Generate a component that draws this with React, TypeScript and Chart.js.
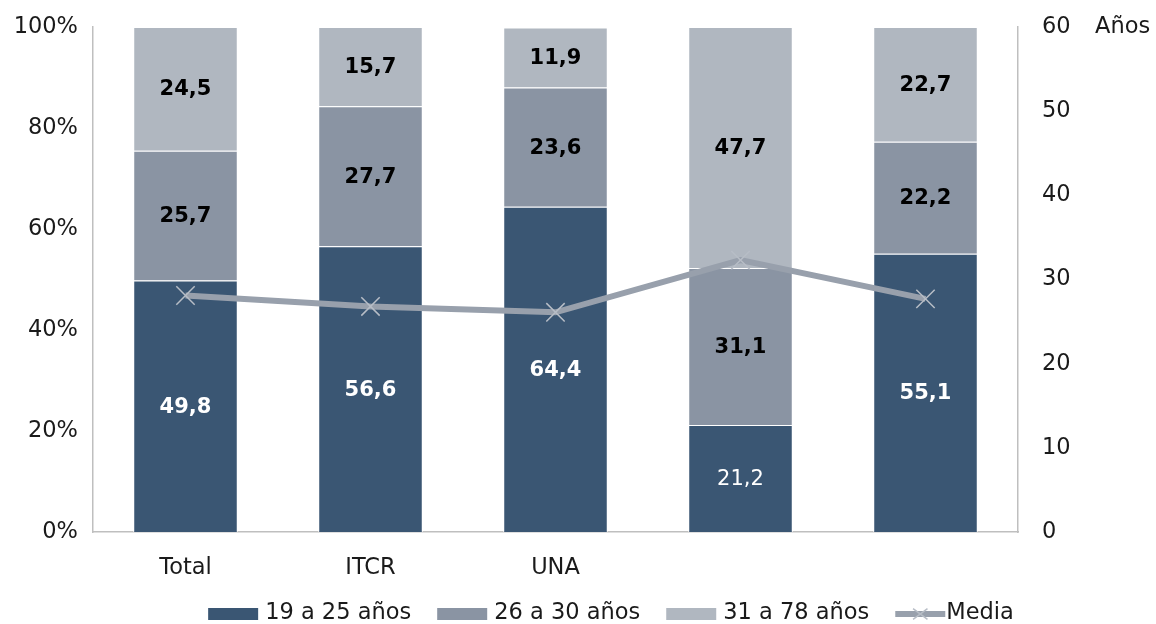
import React, { useEffect, useRef } from "react";
import { Chart, registerables } from "chart.js";

Chart.register(...registerables);

const categories = ["Total", "ITCR", "UNA", "", ""];
const seriesLabels = ["19 a 25 años", "26 a 30 años", "31 a 78 años"];
const age19to25 = [49.8, 56.6, 64.4, 21.2, 55.1];
const age26to30 = [25.7, 27.7, 23.6, 31.1, 22.2];
const age31to78 = [24.5, 15.7, 11.9, 47.7, 22.7];
const mediaLabel = "Media";
const mediaYears = [28.1, 26.8, 26.1, 32.3, 27.7];
const leftTicks = [0, 20, 40, 60, 80, 100];
const rightTicks = [0, 10, 20, 30, 40, 50, 60];
const rightAxisTitle = "Años";

const FONT = "'DejaVu Sans', sans-serif";
const TEXT = "#1a1a1a";
const COLORS = ["#3a5673", "#8a94a3", "#b0b7c0"];
const LINE = "#98a0ac";
const MARK = "#b7bdc6";
const AXIS = "#bfbfbf";
const TICK_SIZE = 22.5;

const fmt = (v: number) => v.toFixed(1).replace(".", ",");

const valueLabels = {
  id: "valueLabels",
  afterDatasetsDraw(chart: any) {
    const ctx = chart.ctx;
    ctx.save();
    ctx.textAlign = "center";
    ctx.textBaseline = "middle";
    for (let d = 0; d < 3; d++) {
      const meta = chart.getDatasetMeta(d);
      const ds = chart.data.datasets[d];
      meta.data.forEach((el: any, i: number) => {
        const plain = d === 0 && i === 3;
        ctx.font = `${plain ? "normal" : "bold"} 21px ${FONT}`;
        ctx.fillStyle = d === 0 ? "#ffffff" : "#000000";
        ctx.fillText(fmt(ds.data[i]), el.x, (el.y + el.base) / 2 + 1);
      });
    }
    ctx.restore();
  },
};

const extras = {
  id: "extras",
  afterDraw(chart: any) {
    const ctx = chart.ctx;
    const y1 = chart.scales.y1;
    ctx.save();
    ctx.font = `${TICK_SIZE}px ${FONT}`;
    ctx.fillStyle = TEXT;
    ctx.textBaseline = "middle";
    ctx.textAlign = "left";
    ctx.fillText(rightAxisTitle, chart.chartArea.right + 77, y1.getPixelForValue(60));

    // legend
    const ds = chart.data.datasets;
    const sw = 50;
    const gap = 7;
    const itemGap = 26;
    const widths = ds.map((d: any) => ctx.measureText(d.label).width);
    let total = 0;
    ds.forEach((d: any, i: number) => {
      total += sw + (d.type === "line" ? 0 : gap) + widths[i];
      if (i < ds.length - 1) total += itemGap;
    });
    let x = (chart.chartArea.left + chart.chartArea.right) / 2 + 55 - total / 2;
    const cy = 614;
    ds.forEach((d: any, i: number) => {
      if (d.type === "line") {
        ctx.strokeStyle = d.borderColor;
        ctx.lineWidth = 6;
        ctx.beginPath();
        ctx.moveTo(x, cy);
        ctx.lineTo(x + sw, cy);
        ctx.stroke();
        const r = 9;
        const c = x + sw / 2;
        ctx.strokeStyle = d.pointBorderColor;
        ctx.lineWidth = 1.5;
        ctx.beginPath();
        ctx.moveTo(c - r * 0.8, cy - r * 0.6);
        ctx.lineTo(c + r * 0.8, cy + r * 0.6);
        ctx.moveTo(c - r * 0.8, cy + r * 0.6);
        ctx.lineTo(c + r * 0.8, cy - r * 0.6);
        ctx.stroke();
        ctx.fillStyle = TEXT;
        ctx.fillText(d.label, x + sw + 1, cy - 1);
        x += sw + widths[i] + itemGap;
      } else {
        ctx.fillStyle = d.backgroundColor;
        ctx.fillRect(x, cy - 6, sw, 12);
        ctx.fillStyle = TEXT;
        ctx.fillText(d.label, x + sw + gap, cy - 1);
        x += sw + gap + widths[i] + itemGap;
      }
    });
    ctx.restore();
  },
};

export default function App() {
  const ref = useRef<HTMLCanvasElement | null>(null);
  useEffect(() => {
    document.body.style.margin = "0";
    const canvas = ref.current!;
    const barSeries = [age19to25, age26to30, age31to78];
    const chart = new Chart(canvas, {
      type: "bar",
      data: {
        labels: categories,
        datasets: [
          ...barSeries.map((data, i) => ({
            type: "bar" as const,
            label: seriesLabels[i],
            data,
            backgroundColor: COLORS[i],
            borderColor: "#ffffff",
            borderWidth: 1,
            yAxisID: "y",
            stack: "s",
            order: 1,
            categoryPercentage: 1,
            barPercentage: 0.565,
          })),
          {
            type: "line" as const,
            label: mediaLabel,
            data: mediaYears,
            borderColor: LINE,
            borderWidth: 6,
            pointStyle: "crossRot",
            pointRadius: 13,
            pointBorderWidth: 1.5,
            pointBorderColor: MARK,
            pointBackgroundColor: MARK,
            yAxisID: "y1",
            order: 0,
            tension: 0,
          } as any,
        ],
      },
      options: {
        responsive: false,
        animation: false,
        layout: { autoPadding: false, padding: { top: 27, left: 0, right: 0, bottom: 42 } },
        plugins: { legend: { display: false }, tooltip: { enabled: false } },
        scales: {
          x: {
            stacked: true,
            grid: { display: false, drawTicks: false },
            border: { display: true, color: AXIS, width: 1.5 },
            ticks: { color: TEXT, font: { family: FONT, size: TICK_SIZE }, padding: 23 },
            afterFit: (s: any) => {
              s.height = 50;
              s.paddingLeft = 0;
              s.paddingRight = 0;
            },
          },
          y: {
            stacked: true,
            min: 0,
            max: 100,
            position: "left",
            grid: { display: false, drawTicks: false },
            border: { display: true, color: AXIS, width: 1.5 },
            afterBuildTicks: (s: any) => {
              s.ticks = leftTicks.map((v) => ({ value: v }));
            },
            ticks: {
              color: TEXT,
              font: { family: FONT, size: TICK_SIZE },
              padding: 15,
              callback: (v: any) => `${v}%`,
            },
            afterFit: (s: any) => {
              s.width = 93;
              s.paddingTop = 0;
              s.paddingBottom = 0;
            },
          },
          y1: {
            stacked: false,
            min: 0,
            max: 60,
            position: "right",
            grid: { display: false, drawTicks: false },
            border: { display: true, color: AXIS, width: 1.5 },
            afterBuildTicks: (s: any) => {
              s.ticks = rightTicks.map((v) => ({ value: v }));
            },
            ticks: {
              color: TEXT,
              font: { family: FONT, size: TICK_SIZE },
              padding: 24,
            },
            afterFit: (s: any) => {
              s.width = 1156 - 1018;
              s.paddingTop = 0;
              s.paddingBottom = 0;
            },
          },
        },
      },
      plugins: [valueLabels, extras],
    });
    return () => chart.destroy();
  }, []);
  return (
    <div style={{ width: 1156, height: 624 }}>
      <canvas ref={ref} width={1156} height={624} style={{ display: "block", width: 1156, height: 624 }} />
    </div>
  );
}
